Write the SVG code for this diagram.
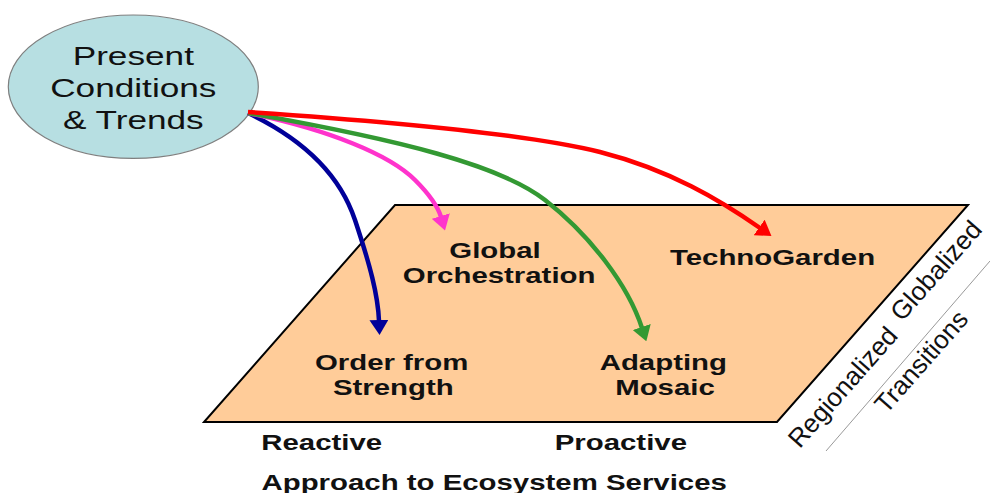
<svg xmlns="http://www.w3.org/2000/svg" width="990" height="493" viewBox="0 0 990 493">
<style>
.lbl{font-family:"Liberation Sans",Arial,sans-serif;font-weight:bold;font-size:21.3px;fill:#111;text-anchor:middle}
.ell{font-family:"Liberation Sans",Arial,sans-serif;font-size:25.5px;fill:#111;text-anchor:middle}
.rot{font-family:"Liberation Sans",Arial,sans-serif;font-size:26px;fill:#111;text-anchor:middle}
.arr{fill:none;stroke-width:4.5}
</style>
<defs>
<marker id="hb" markerUnits="userSpaceOnUse" viewBox="0 0 15 19" markerWidth="15" markerHeight="19" refX="1" refY="9.5" orient="auto"><path d="M0,0 L15,9.5 L0,19 z" fill="#000099"/></marker>
<marker id="hp" markerUnits="userSpaceOnUse" viewBox="0 0 15 19" markerWidth="15" markerHeight="19" refX="1" refY="9.5" orient="auto"><path d="M0,0 L15,9.5 L0,19 z" fill="#ff33cc"/></marker>
<marker id="hg" markerUnits="userSpaceOnUse" viewBox="0 0 15 19" markerWidth="15" markerHeight="19" refX="1" refY="9.5" orient="auto"><path d="M0,0 L15,9.5 L0,19 z" fill="#339933"/></marker>
<marker id="hr" markerUnits="userSpaceOnUse" viewBox="0 0 15 19" markerWidth="15" markerHeight="19" refX="1" refY="9.5" orient="auto"><path d="M0,0 L15,9.5 L0,19 z" fill="#ff0000"/></marker>
</defs>
<rect width="990" height="493" fill="#ffffff"/>

<g id="plane">
<polygon points="395,205 968,205 777,422 204,422" fill="#ffcc99" stroke="#000" stroke-width="2"/>
</g>

<g id="present">
<ellipse cx="133.3" cy="86.7" rx="125" ry="71.7" fill="#b7dfe2" stroke="#7f7f7f" stroke-width="1.2"/>
<text class="ell" transform="scale(1.38,1)" x="96.6" y="65">Present</text>
<text class="ell" transform="scale(1.38,1)" x="96.6" y="97.3">Conditions</text>
<text class="ell" transform="scale(1.38,1)" x="96.6" y="129.3">&amp; Trends</text>
</g>

<g id="connectors">
<path class="arr" stroke="#000099" marker-end="url(#hb)" d="M248,113 C305,140 340,175 355,220 C370,265 378,295 379,321"/>
<path class="arr" stroke="#ff33cc" marker-end="url(#hp)" d="M248,113 C330,130 390,155 415,180 C430,195 438,207 441,217"/>
<path class="arr" stroke="#339933" marker-end="url(#hg)" d="M248,113 C400,140 500,165 545,200 C590,235 628,285 642,328"/>
<path class="arr" stroke="#ff0000" marker-end="url(#hr)" d="M248,112 C400,122 530,135 600,152 C670,170 720,200 760,228"/>
</g>

<g id="global-orchestration">
<text class="lbl" transform="scale(1.38,1)" x="358.7" y="258.3">Global</text>
<text class="lbl" transform="scale(1.38,1)" x="361.7" y="283.3">Orchestration</text>
</g>
<g id="technogarden">
<text class="lbl" transform="scale(1.38,1)" x="559.8" y="265">TechnoGarden</text>
</g>
<g id="order-from-strength">
<text class="lbl" transform="scale(1.38,1)" x="283.8" y="370">Order from</text>
<text class="lbl" transform="scale(1.38,1)" x="285.0" y="395">Strength</text>
</g>
<g id="adapting-mosaic">
<text class="lbl" transform="scale(1.38,1)" x="480.7" y="370">Adapting</text>
<text class="lbl" transform="scale(1.38,1)" x="481.9" y="395">Mosaic</text>
</g>

<g id="axis-x">
<text class="lbl" transform="scale(1.38,1)" x="233.1" y="450">Reactive</text>
<text class="lbl" transform="scale(1.38,1)" x="449.9" y="450">Proactive</text>
<text class="lbl" transform="scale(1.38,1)" x="358.1" y="490">Approach to Ecosystem Services</text>
</g>

<g id="axis-y">
<line x1="826" y1="451" x2="990" y2="261" stroke="#999" stroke-width="1"/>
<g transform="rotate(-48.6)">
<text class="rot" x="267" y="897">Regionalized</text>
<text class="rot" x="416" y="890">Globalized</text>
<text class="rot" x="338" y="939">Transitions</text>
</g>
</g>
</svg>
